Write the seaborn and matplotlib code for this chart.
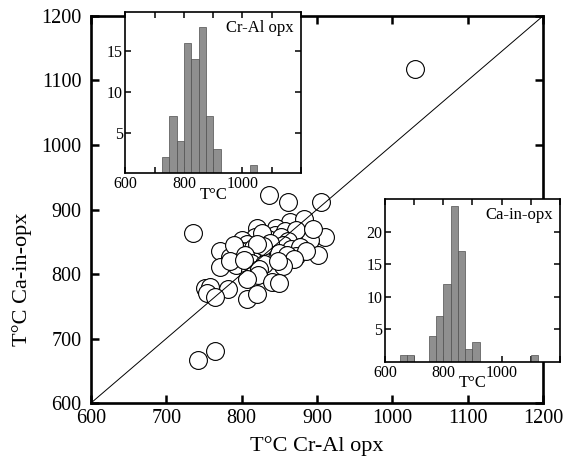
import matplotlib
matplotlib.use("Agg")
import matplotlib.pyplot as plt
import numpy as np
import seaborn as sns

sns.set_style("ticks")
plt.rcParams['font.family'] = ['Liberation Serif', 'DejaVu Serif']
plt.rcParams.update({'axes.edgecolor': 'black', 'text.color': 'black',
                     'xtick.color': 'black', 'ytick.color': 'black',
                     'axes.labelcolor': 'black'})

# scatter: T (deg C) from Cr-Al opx vs Ca-in-opx thermometers
t_cral = [836, 862, 905, 864, 883, 1030, 742, 765,
          736, 821, 846, 844, 880, 911, 869, 891, 858, 835, 818, 872, 852, 800, 861, 827, 895,
          807, 796, 771, 807, 833, 846, 844, 902, 785, 815, 825, 855, 865, 878, 812, 838,
          850, 872, 790, 828, 860, 820, 885, 805,
          869, 771, 793, 813, 811, 842, 785, 830, 855, 823, 803, 848,
          822, 807, 840, 850, 782, 752, 758,
          754, 765, 807, 820]
t_cain = [922, 912, 912, 881, 886, 1118, 666, 681,
          864, 872, 871, 860, 860, 857, 853, 853, 866, 855, 858, 868, 857, 852, 851, 864, 870,
          846, 837, 835, 835, 837, 842, 829, 830, 826, 840, 832, 845, 838, 842, 828, 848,
          833, 828, 845, 843, 830, 846, 835, 830,
          824, 811, 814, 817, 804, 809, 820, 815, 812, 808, 822, 820,
          798, 793, 788, 786, 776, 778, 780,
          771, 765, 762, 769]

# inset histograms (25 deg bins, left edges)
cral_bins = [725, 750, 775, 800, 825, 850, 875, 900, 1025]
cral_counts = [2, 7, 4, 16, 14, 18, 7, 3, 1]
cain_bins = [650, 675, 750, 775, 800, 825, 850, 875, 900, 1100]
cain_counts = [1, 1, 4, 7, 12, 24, 17, 2, 3, 1]

axis_ticks = [600, 700, 800, 900, 1000, 1100, 1200]
inset_xlabels = ['600', '', '800', '', '1000', '', '']

fig = plt.figure(figsize=(5.73, 4.65), dpi=100)
ax = fig.add_axes([0.1588, 0.1333, 0.7888, 0.8323])

sns.lineplot(x=[600, 1200], y=[600, 1200], color='black', lw=0.7, ax=ax, zorder=3)
sns.scatterplot(x=t_cral, y=t_cain, s=165, facecolor='white', edgecolor='black',
                linewidth=0.8, ax=ax, zorder=2)
ax.set_xlim(600, 1200)
ax.set_ylim(600, 1200)
ax.set_xticks(axis_ticks)
ax.set_yticks(axis_ticks)
ax.tick_params(direction='in', length=6, width=1.8, top=True, right=True, labelsize=14.5)
ax.tick_params(axis='x', pad=4)
ax.tick_params(axis='y', pad=7)
for s in ax.spines.values():
    s.set_linewidth(1.9)
ax.set_xlabel('T°C Cr-Al opx', fontsize=16)
ax.set_ylabel('T°C Ca-in-opx', fontsize=16)
ax.xaxis.set_label_coords(0.5, -0.085)
ax.yaxis.set_label_coords(-0.13, 0.32)


def inset(rect, bins, counts, ymax, yticks, title):
    a = fig.add_axes(rect)
    a.set_facecolor('white')
    centers = [b + 12.5 for b in bins]
    sns.histplot(x=centers, weights=counts, binwidth=25,
                 binrange=(min(bins), max(bins) + 25), color='#8f8f8f',
                 edgecolor='#505050', linewidth=0.5, alpha=1, ax=a)
    a.set_xlim(600, 1200)
    a.set_ylim(0, ymax)
    a.set_xticks(axis_ticks)
    a.set_xticklabels(inset_xlabels)
    a.set_yticks(yticks)
    a.set_ylabel('')
    a.set_xlabel('T°C', fontsize=12, labelpad=-4)
    a.tick_params(direction='in', length=4, width=1.1, top=True, right=True,
                  labelsize=11.5, pad=2)
    for s in a.spines.values():
        s.set_linewidth(1.2)
    a.text(0.96, 0.95, title, transform=a.transAxes, ha='right', va='top', fontsize=12)
    return a


inset([0.219, 0.6273, 0.3063, 0.3467], cral_bins, cral_counts, 19.8, [5, 10, 15], 'Cr-Al opx')
inset([0.6719, 0.2215, 0.3054, 0.3499], cain_bins, cain_counts, 25, [5, 10, 15, 20], 'Ca-in-opx')

fig.savefig('out.png', dpi=100)
